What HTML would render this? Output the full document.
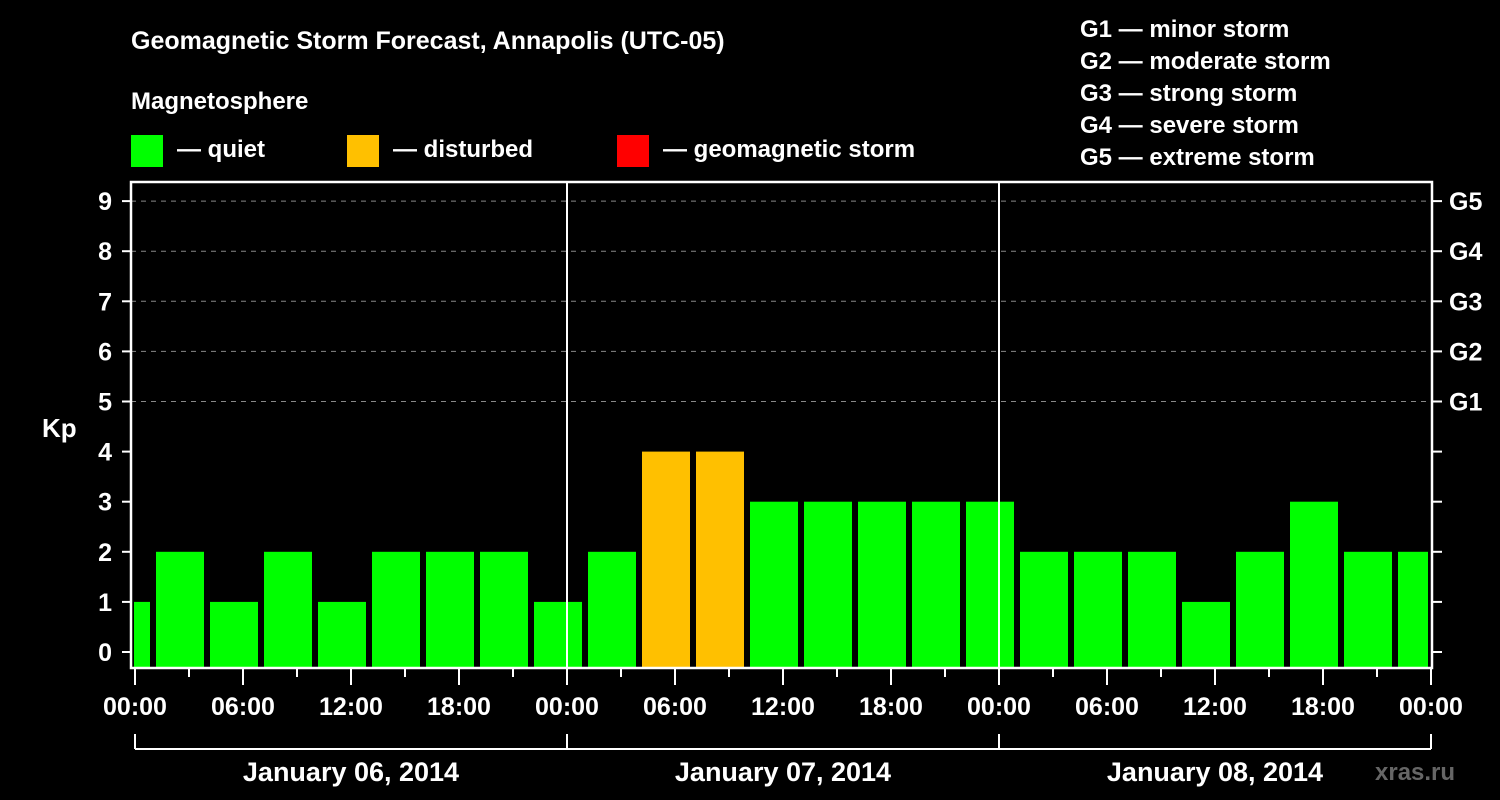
<!DOCTYPE html>
<html><head><meta charset="utf-8"><style>
body{margin:0;background:#000;}
svg{display:block;font-family:"Liberation Sans",Arial,sans-serif;font-weight:bold;}
</style></head><body>
<svg id="chart" width="1500" height="800" viewBox="0 0 1500 800">
<rect width="1500" height="800" fill="#000"/>
<text x="131" y="49" fill="#fff" font-size="25">Geomagnetic Storm Forecast, Annapolis (UTC-05)</text>
<text x="131" y="109" fill="#fff" font-size="24">Magnetosphere</text>
<g><rect x="131" y="135" width="32" height="32" fill="#00ff00"/><text x="177" y="157" fill="#fff" font-size="24">— quiet</text></g>
<g><rect x="347" y="135" width="32" height="32" fill="#ffc000"/><text x="393" y="157" fill="#fff" font-size="24">— disturbed</text></g>
<g><rect x="617" y="135" width="32" height="32" fill="#ff0000"/><text x="663" y="157" fill="#fff" font-size="24">— geomagnetic storm</text></g>
<g fill="#fff" font-size="24">
<text x="1080" y="37">G1 — minor storm</text>
<text x="1080" y="69">G2 — moderate storm</text>
<text x="1080" y="101">G3 — strong storm</text>
<text x="1080" y="133">G4 — severe storm</text>
<text x="1080" y="165">G5 — extreme storm</text>
</g>
<text x="42" y="437" fill="#fff" font-size="26">Kp</text>
<text x="1375" y="780" fill="#666" font-size="24">xras.ru</text>
<g id="grid"></g>
<g id="bars"></g>
<g id="axes"></g>
</svg>
<script>
const kpValues=[1,2,1,2,1,2,2,2,1,2,4,4,3,3,3,3,3,2,2,2,1,2,3,2,2];
const yTicks=[0,1,2,3,4,5,6,7,8,9];
const gLabels=["G1","G2","G3","G4","G5"];
const xLabels=["00:00","06:00","12:00","18:00","00:00","06:00","12:00","18:00","00:00","06:00","12:00","18:00","00:00"];
const dayLabels=["January 06, 2014","January 07, 2014","January 08, 2014"];
const NS="http://www.w3.org/2000/svg";
const svg=document.getElementById('chart');
const X=h=>135+18*h;
const Y=v=>652-50.1*v;
const L=131,R=1432,T=182,B=668;
function mk(tag,attrs,parent,text){const e=document.createElementNS(NS,tag);for(const k in attrs)e.setAttribute(k,attrs[k]);if(text!==undefined)e.textContent=text;document.getElementById(parent).appendChild(e);return e;}
for(const v of yTicks){
 if(v>=5){const g=mk('line',{x1:L,x2:R,y1:Y(v),y2:Y(v),stroke:'#888','stroke-width':1,'stroke-dasharray':'5,5'},'grid');
 
 }
}
const clip=mk('clipPath',{id:'pc'},'bars');mk('rect',{x:L+2,y:T,width:R-L-4,height:B-T},'bars').remove();
const cr=document.createElementNS(NS,'rect');cr.setAttribute('x',L+3);cr.setAttribute('y',T);cr.setAttribute('width',R-L-7);cr.setAttribute('height',B-T);clip.appendChild(cr);
kpValues.forEach((v,i)=>{
 const c=2.5+3*(i-1);
 const r=mk('rect',{x:X(c)-24,y:Y(v),width:48,height:(B-1)-Y(v),fill:v>=5?'#ff0000':(v>=4?'#ffc000':'#00ff00'),'clip-path':'url(#pc)'},'bars');
 
 
});
for(const d of [1,2]){const l=mk('line',{x1:X(24*d),x2:X(24*d),y1:T,y2:B,stroke:'#fff','stroke-width':2},'axes');
 
 }
const fr=mk('rect',{x:L,y:T,width:R-L,height:B-T,fill:'none',stroke:'#fff','stroke-width':2.5},'axes');


for(const v of yTicks){
 mk('line',{x1:122,x2:L,y1:Y(v),y2:Y(v),stroke:'#fff','stroke-width':2},'axes');
 mk('line',{x1:R,x2:1442,y1:Y(v),y2:Y(v),stroke:'#fff','stroke-width':2},'axes');
 const t=mk('text',{x:112,y:Y(v)+9,fill:'#fff','font-size':25,'text-anchor':'end'},'axes',String(v));
 
 
}
gLabels.forEach((g,i)=>{const t=mk('text',{x:1449,y:Y(5+i)+9,fill:'#fff','font-size':25},'axes',g);
 
 });
for(let h=0;h<=72;h+=3){
 const len=h%6===0?17:9;
 mk('line',{x1:X(h),x2:X(h),y1:B,y2:B+len,stroke:'#fff','stroke-width':2},'axes');
}
xLabels.forEach((s,i)=>{const t=mk('text',{x:X(6*i),y:715,fill:'#fff','font-size':25,'text-anchor':'middle'},'axes',s);
 
 });
mk('line',{x1:X(0),x2:X(72),y1:749,y2:749,stroke:'#fff','stroke-width':2},'axes');
for(let d=0;d<=3;d++)mk('line',{x1:X(24*d),x2:X(24*d),y1:734,y2:749,stroke:'#fff','stroke-width':2},'axes');
dayLabels.forEach((s,i)=>{const t=mk('text',{x:X(24*i+12),y:781,fill:'#fff','font-size':27,'text-anchor':'middle'},'axes',s);
 
 });
</script>
</body></html>
